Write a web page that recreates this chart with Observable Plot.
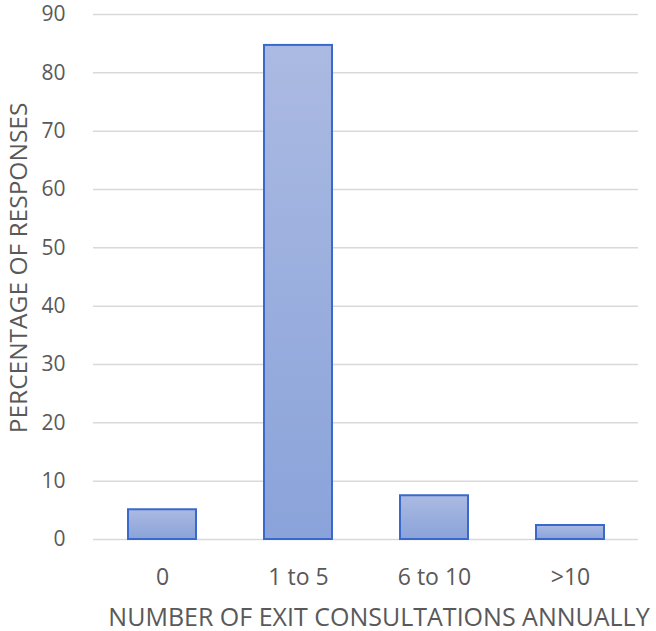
<!DOCTYPE html>
<html><head><meta charset="utf-8">
<script src="https://cdn.jsdelivr.net/npm/d3@7"></script>
<script src="https://cdn.jsdelivr.net/npm/@observablehq/plot@0.6"></script>
<style>body{margin:0;background:#fff} svg{display:block}</style>
</head><body><div id="chart"></div>
<script>
const categories = ["0", "1 to 5", "6 to 10", ">10"];
const values = [5.1, 84.7, 7.5, 2.4];
const yTicks = [0, 10, 20, 30, 40, 50, 60, 70, 80, 90];
const xTitle = "NUMBER OF EXIT CONSULTATIONS ANNUALLY";
const yTitle = "PERCENTAGE OF RESPONSES";

const data = categories.map((c, i) => ({cat: c, v: values[i]}));
const font = "Open Sans, Liberation Sans, sans-serif";

const svg = Plot.plot({
  width: 656, height: 631,
  marginLeft: 93, marginRight: 18, marginTop: 14, marginBottom: 92,
  style: {fontFamily: font, fontSize: "21px", color: "#595959", background: "#fff", overflow: "visible"},
  x: {domain: categories, paddingInner: 0.5, paddingOuter: 0.25, label: null},
  y: {domain: [0, 90], label: null},
  marks: [
    Plot.ruleY(yTicks, {stroke: "#d9d9d9", strokeWidth: 1.5}),
    Plot.barY(data, {x: "cat", y: "v", fill: "url(#barGrad)", stroke: "#3a69cc", strokeWidth: 2}),
    Plot.axisY(yTicks, {tickSize: 0, tickPadding: 28, fontSize: 21, fill: "#595959", label: null}),
    Plot.axisX({tickSize: 0, tickPadding: 29, fontSize: 23, fill: "#595959", label: null}),
    Plot.text([xTitle], {frameAnchor: "bottom", lineAnchor: "middle", textAnchor: "middle", dy: 78, dx: 13, fontSize: 25, fill: "#595959"}),
    Plot.text([yTitle], {frameAnchor: "left", lineAnchor: "middle", textAnchor: "middle", dx: -74, dy: -9, rotate: -90, fontSize: 24.5, fill: "#595959"})
  ]
});
const defs = d3.select(svg).insert("defs", ":first-child");
const g = defs.append("linearGradient").attr("id", "barGrad").attr("x1", 0).attr("y1", 0).attr("x2", 0).attr("y2", 1);
g.append("stop").attr("offset", "0%").attr("stop-color", "#abbae2");
g.append("stop").attr("offset", "100%").attr("stop-color", "#8aa3da");
document.getElementById("chart").appendChild(svg);
</script></body></html>
